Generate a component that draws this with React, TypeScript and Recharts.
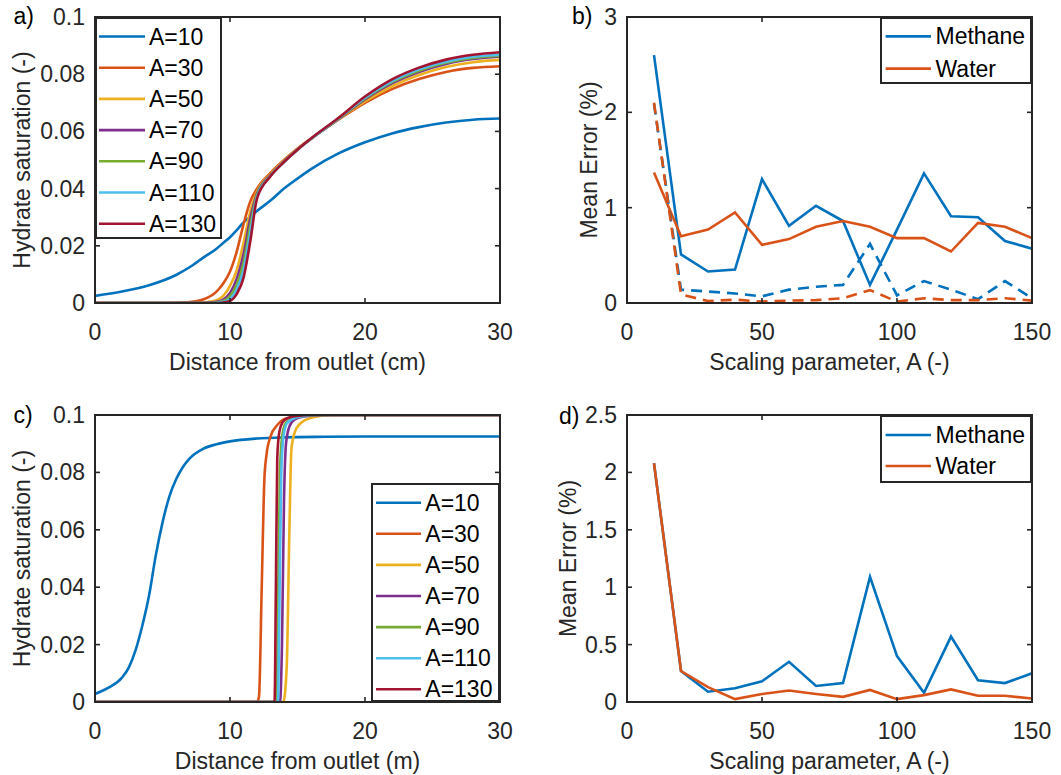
import React from 'react';
import { LineChart, Line, XAxis, YAxis } from 'recharts';

const FONT = '"Liberation Sans", Arial, Helvetica, sans-serif';
const FS = 23;
const INK = '#262626';
const TL = 5;

const seriesColors = ['#0072BD', '#D95319', '#EDB120', '#7E2F8E', '#77AC30', '#4DBEEE', '#A2142F'];
const satLabels = ['A=10', 'A=30', 'A=50', 'A=70', 'A=90', 'A=110', 'A=130'];
const errLabels = ['Methane', 'Water'];

// ---------- panel a: saturation vs distance (cm)
const distTicks = [0, 10, 20, 30];
const satTicks = [0, 0.02, 0.04, 0.06, 0.08, 0.1];
const aX = [0, 2, 4, 6, 7, 8, 9, 9.5, 10, 10.5, 11, 11.5, 12, 13, 14, 15, 16, 18, 20, 22, 24, 26, 28, 30];
const aA10 = [0.0025, 0.0040, 0.0062, 0.0098, 0.0125, 0.0158, 0.0190, 0.0210, 0.0230, 0.0255, 0.0282, 0.0302, 0.0322, 0.0358, 0.0400, 0.0435, 0.0468, 0.0522, 0.0562, 0.0593, 0.0615, 0.0631, 0.0641, 0.0645];
const aA30 = [0, 0, 0, 0.0001, 0.0003, 0.0012, 0.0040, 0.0068, 0.0110, 0.0180, 0.0275, 0.0355, 0.0400, 0.0455, 0.0500, 0.0540, 0.0575, 0.0640, 0.0700, 0.0748, 0.0783, 0.0808, 0.0822, 0.0828];
const aA50 = [0, 0, 0, 0, 0, 0.0002, 0.0010, 0.0025, 0.0060, 0.0115, 0.0210, 0.0320, 0.0390, 0.0450, 0.0497, 0.0538, 0.0574, 0.0641, 0.0705, 0.0758, 0.0797, 0.0825, 0.0842, 0.0850];
const aA70 = [0, 0, 0, 0, 0, 0, 0.0004, 0.0012, 0.0035, 0.0085, 0.0170, 0.0295, 0.0382, 0.0447, 0.0495, 0.0537, 0.0574, 0.0642, 0.0712, 0.0768, 0.0808, 0.0836, 0.0853, 0.0862];
const aA90 = [0, 0, 0, 0, 0, 0, 0.0002, 0.0007, 0.0024, 0.0065, 0.0140, 0.0270, 0.0378, 0.0445, 0.0494, 0.0536, 0.0574, 0.0643, 0.0715, 0.0772, 0.0812, 0.0840, 0.0857, 0.0865];
const aA110 = [0, 0, 0, 0, 0, 0, 0.0001, 0.0004, 0.0014, 0.0048, 0.0115, 0.0245, 0.0372, 0.0444, 0.0493, 0.0536, 0.0574, 0.0644, 0.0718, 0.0776, 0.0817, 0.0844, 0.0861, 0.0868];
const aA130 = [0, 0, 0, 0, 0, 0, 0, 0.0002, 0.0007, 0.0032, 0.0088, 0.0215, 0.0365, 0.0443, 0.0493, 0.0536, 0.0575, 0.0646, 0.0722, 0.0782, 0.0823, 0.0851, 0.0868, 0.0877];
const aSeries = [aA10, aA30, aA50, aA70, aA90, aA110, aA130];

// ---------- panel c: saturation vs distance (m)
const cX10 = [0, 1, 2, 2.5, 3, 3.5, 4, 4.5, 5, 5.5, 6, 6.5, 7, 8, 9, 10, 12, 14, 17, 20, 30];
const cY10 = [0.0028, 0.0050, 0.0085, 0.0120, 0.0180, 0.0265, 0.0370, 0.0510, 0.0625, 0.0715, 0.0775, 0.0818, 0.0848, 0.0882, 0.0898, 0.0908, 0.0918, 0.0922, 0.0924, 0.0925, 0.0925];
const cX30 = [0, 12.0, 12.15, 12.35, 12.55, 12.7, 13.0, 13.5, 14.0, 15.0, 16.5, 30];
const cY30 = [0, 0, 0.002, 0.040, 0.078, 0.086, 0.0925, 0.0965, 0.0985, 0.0995, 0.1, 0.1];
const cX50 = [0, 13.95, 14.2, 14.4, 14.55, 14.8, 15.2, 16.0, 17.5, 30];
const cY50 = [0, 0, 0.012, 0.060, 0.088, 0.094, 0.097, 0.099, 0.1, 0.1];
const cX70 = [0, 13.7, 13.85, 14.0, 14.15, 14.4, 14.8, 15.5, 17.0, 30];
const cY70 = [0, 0, 0.020, 0.070, 0.090, 0.096, 0.0985, 0.0995, 0.1, 0.1];
const cX90 = [0, 13.45, 13.55, 13.7, 13.85, 14.1, 14.5, 15.2, 16.5, 30];
const cY90 = [0, 0, 0.030, 0.080, 0.092, 0.097, 0.0985, 0.0995, 0.1, 0.1];
const cX110 = [0, 13.55, 13.65, 13.8, 13.95, 14.2, 14.6, 15.3, 16.5, 30];
const cY110 = [0, 0, 0.030, 0.080, 0.092, 0.097, 0.0985, 0.0995, 0.1, 0.1];
const cX130 = [0, 13.3, 13.4, 13.5, 13.65, 13.9, 14.3, 15.0, 16.0, 30];
const cY130 = [0, 0, 0.040, 0.085, 0.094, 0.0975, 0.099, 0.0997, 0.1, 0.1];
const cSeriesX = [cX10, cX30, cX50, cX70, cX90, cX110, cX130];
const cSeriesY = [cY10, cY30, cY50, cY70, cY90, cY110, cY130];

// ---------- panel b / d: mean error vs scaling parameter
const scaleA = [10, 20, 30, 40, 50, 60, 70, 80, 90, 100, 110, 120, 130, 140, 150];
const scaleTicks = [0, 50, 100, 150];
const bYTicks = [0, 1, 2, 3];
const dYTicks = [0, 0.5, 1, 1.5, 2, 2.5];
const bMethane = [2.60, 0.51, 0.33, 0.35, 1.30, 0.81, 1.02, 0.86, 0.19, 0.77, 1.36, 0.91, 0.90, 0.65, 0.57];
const bWater = [1.37, 0.70, 0.77, 0.95, 0.61, 0.67, 0.80, 0.86, 0.80, 0.68, 0.68, 0.54, 0.84, 0.80, 0.68];
const bMethaneDash = [2.09, 0.14, 0.12, 0.10, 0.07, 0.14, 0.17, 0.19, 0.62, 0.08, 0.23, 0.14, 0.04, 0.23, 0.05];
const bWaterDash = [2.10, 0.09, 0.02, 0.035, 0.015, 0.025, 0.03, 0.05, 0.135, 0.015, 0.05, 0.03, 0.03, 0.05, 0.025];
const dMethane = [2.08, 0.27, 0.09, 0.12, 0.18, 0.35, 0.14, 0.165, 1.09, 0.40, 0.08, 0.57, 0.19, 0.165, 0.25];
const dWater = [2.08, 0.27, 0.13, 0.025, 0.07, 0.10, 0.07, 0.045, 0.105, 0.025, 0.06, 0.11, 0.055, 0.055, 0.03];

const bTable = scaleA.map((x, i) => ({ x, m: bMethane[i], w: bWater[i], md: bMethaneDash[i], wd: bWaterDash[i] }));
const dTable = scaleA.map((x, i) => ({ x, m: dMethane[i], w: dWater[i] }));

type Geom = { left: number; top: number; width: number; height: number; plotLeft: number; plotTop: number; plotW: number; plotH: number };

const geomA: Geom = { left: 0, top: 0, width: 530, height: 395, plotLeft: 95, plotTop: 17, plotW: 405, plotH: 286 };
const geomB: Geom = { left: 532, top: 0, width: 529, height: 395, plotLeft: 627, plotTop: 17, plotW: 405, plotH: 286 };
const geomC: Geom = { left: 0, top: 398, width: 530, height: 377, plotLeft: 95, plotTop: 415, plotW: 405, plotH: 287 };
const geomD: Geom = { left: 532, top: 398, width: 529, height: 377, plotLeft: 627, plotTop: 415, plotW: 405, plotH: 287 };

const fmt = (v: number) => String(+v.toFixed(4));

function xTick(plotH: number) {
  return (p: any) => {
    const { x, y, payload } = p;
    return (
      <g>
        <line x1={x} x2={x} y1={y} y2={y - TL} stroke={INK} strokeWidth={1.6} />
        <line x1={x} x2={x} y1={y - plotH} y2={y - plotH + TL} stroke={INK} strokeWidth={1.6} />
        <text x={x} y={y + 37} textAnchor="middle" fontSize={FS} fontFamily={FONT} fill={INK}>{fmt(payload.value)}</text>
      </g>
    );
  };
}

function yTick(plotW: number, plotH: number, first: number) {
  return (p: any) => {
    const { x, y, payload } = p;
    return (
      <g>
        {payload.value === first ? (
          <rect x={x} y={y - plotH} width={plotW} height={plotH} fill="none" stroke={INK} strokeWidth={2} />
        ) : null}
        <line x1={x} x2={x + TL} y1={y} y2={y} stroke={INK} strokeWidth={1.6} />
        <line x1={x + plotW} x2={x + plotW - TL} y1={y} y2={y} stroke={INK} strokeWidth={1.6} />
        <text x={x - 10} y={y + 8} textAnchor="end" fontSize={FS} fontFamily={FONT} fill={INK}>{fmt(payload.value)}</text>
      </g>
    );
  };
}

function frame(g: Geom, xDom: number[], yDom: number[], xTicks: number[], yTicks: number[], xTitle: string, yTitle: string, yTitleOff: number) {
  const cx = g.plotLeft - g.left + g.plotW / 2;
  const xTitleY = g.plotTop - g.top + g.plotH + 67;
  const yTitleX = g.plotLeft - g.left - yTitleOff;
  const cy = g.plotTop - g.top + g.plotH / 2;
  return [
    <XAxis key="xa" type="number" dataKey="x" domain={xDom} ticks={xTicks} interval={0} allowDataOverflow
      height={g.top + g.height - (g.plotTop + g.plotH)} axisLine={false} tickLine={false} tickSize={0} tickMargin={0}
      tick={xTick(g.plotH)}
      label={() => (
        <text x={cx} y={xTitleY} textAnchor="middle" fontSize={FS} fontFamily={FONT} fill={INK}>{xTitle}</text>
      )} />,
    <YAxis key="ya" type="number" domain={yDom} ticks={yTicks} interval={0} allowDataOverflow
      width={g.plotLeft - g.left} axisLine={false} tickLine={false} tickSize={0} tickMargin={0}
      tick={yTick(g.plotW, g.plotH, yDom[0])}
      label={() => (
        <text x={yTitleX} y={cy} transform={`rotate(-90, ${yTitleX}, ${cy})`} textAnchor="middle" fontSize={FS} fontFamily={FONT} fill={INK}>{yTitle}</text>
      )} />,
  ];
}

type LegendSpec = { x: number; y: number; w: number; h: number; y0: number; dy: number; lx0: number; lx1: number; tx: number; labels: string[] };

function LegendBox({ s, g }: { s: LegendSpec; g: Geom }) {
  return (
    <svg width={s.w} height={s.h} style={{ position: 'absolute', left: s.x - g.left, top: s.y - g.top, display: 'block' }}>
      <rect x={1} y={1} width={s.w - 2} height={s.h - 2} fill="#ffffff" stroke={INK} strokeWidth={2} />
      {s.labels.map((lab, i) => {
        const cy = s.y0 + i * s.dy;
        return (
          <g key={lab}>
            <line x1={s.lx0} x2={s.lx1} y1={cy} y2={cy} stroke={seriesColors[i]} strokeWidth={2.6} />
            <text x={s.tx} y={cy + 8} fontSize={FS} fontFamily={FONT} fill="#000">{lab}</text>
          </g>
        );
      })}
    </svg>
  );
}

const legA: LegendSpec = { x: 95, y: 17, w: 127, h: 222, y0: 19.5, dy: 31.2, lx0: 4, lx1: 50, tx: 54, labels: satLabels };
const legB: LegendSpec = { x: 880, y: 17, w: 152, h: 67, y0: 19.4, dy: 32.2, lx0: 5.6, lx1: 51, tx: 55.5, labels: errLabels };
const legC: LegendSpec = { x: 371, y: 483, w: 129, h: 219, y0: 19.7, dy: 31.1, lx0: 5, lx1: 50, tx: 54.3, labels: satLabels };
const legD: LegendSpec = { x: 880, y: 415, w: 152, h: 68, y0: 20, dy: 31, lx0: 5.6, lx1: 51, tx: 55.5, labels: errLabels };

function margins(g: Geom) {
  return { top: g.plotTop - g.top, left: 0, right: g.left + g.width - (g.plotLeft + g.plotW), bottom: 0 };
}

function boxStyle(g: Geom): React.CSSProperties {
  return { position: 'absolute', left: g.left, top: g.top, width: g.width, height: g.height };
}

export default function App() {
  const distDom = [0, 30];
  const satDom = [0, 0.1];
  const scaleDom = [0, 150];
  return (
    <div style={{ position: 'absolute', left: 0, top: 0, width: 1061, height: 775, overflow: 'hidden', background: '#ffffff', fontFamily: FONT }}>
      {/* a */}
      <div style={boxStyle(geomA)}>
        <LineChart width={geomA.width} height={geomA.height} margin={margins(geomA)}>
          {frame(geomA, distDom, satDom, distTicks, satTicks, 'Distance from outlet (cm)', 'Hydrate saturation (-)', 65)}
          {aSeries.map((ys, k) => (
            <Line key={satLabels[k]} data={aX.map((x, i) => ({ x, y: ys[i] }))} dataKey="y" type="monotone"
              stroke={seriesColors[k]} strokeWidth={2.6} dot={false} activeDot={false} isAnimationActive={false} />
          ))}
        </LineChart>
        <LegendBox s={legA} g={geomA} />
      </div>
      {/* b */}
      <div style={boxStyle(geomB)}>
        <LineChart width={geomB.width} height={geomB.height} margin={margins(geomB)} data={bTable}>
          {frame(geomB, scaleDom, [0, 3], scaleTicks, bYTicks, 'Scaling parameter, A (-)', 'Mean Error (%)', 30.5)}
          <Line dataKey="m" type="linear" stroke={seriesColors[0]} strokeWidth={2.6} dot={false} activeDot={false} isAnimationActive={false} />
          <Line dataKey="w" type="linear" stroke={seriesColors[1]} strokeWidth={2.6} dot={false} activeDot={false} isAnimationActive={false} />
          <Line dataKey="md" type="linear" stroke={seriesColors[0]} strokeWidth={2.6} strokeDasharray="11 7" dot={false} activeDot={false} isAnimationActive={false} />
          <Line dataKey="wd" type="linear" stroke={seriesColors[1]} strokeWidth={2.6} strokeDasharray="11 7" dot={false} activeDot={false} isAnimationActive={false} />
        </LineChart>
        <LegendBox s={legB} g={geomB} />
      </div>
      {/* c */}
      <div style={boxStyle(geomC)}>
        <LineChart width={geomC.width} height={geomC.height} margin={margins(geomC)}>
          {frame(geomC, distDom, satDom, distTicks, satTicks, 'Distance from outlet (m)', 'Hydrate saturation (-)', 65)}
          {cSeriesX.map((xs, k) => (
            <Line key={satLabels[k]} data={xs.map((x, i) => ({ x, y: cSeriesY[k][i] }))} dataKey="y" type="monotone"
              stroke={seriesColors[k]} strokeWidth={2.6} dot={false} activeDot={false} isAnimationActive={false} />
          ))}
        </LineChart>
        <LegendBox s={legC} g={geomC} />
      </div>
      {/* d */}
      <div style={boxStyle(geomD)}>
        <LineChart width={geomD.width} height={geomD.height} margin={margins(geomD)} data={dTable}>
          {frame(geomD, scaleDom, [0, 2.5], scaleTicks, dYTicks, 'Scaling parameter, A (-)', 'Mean Error (%)', 51)}
          <Line dataKey="m" type="linear" stroke={seriesColors[0]} strokeWidth={2.6} dot={false} activeDot={false} isAnimationActive={false} />
          <Line dataKey="w" type="linear" stroke={seriesColors[1]} strokeWidth={2.6} dot={false} activeDot={false} isAnimationActive={false} />
        </LineChart>
        <LegendBox s={legD} g={geomD} />
      </div>
      {/* panel letters */}
      <svg width={1061} height={775} style={{ position: 'absolute', left: 0, top: 0, pointerEvents: 'none' }}>
        <text x={13.5} y={24} fontSize={FS} fontFamily={FONT} fill="#000">a)</text>
        <text x={572} y={24} fontSize={FS} fontFamily={FONT} fill="#000">b)</text>
        <text x={13.5} y={422.5} fontSize={FS} fontFamily={FONT} fill="#000">c)</text>
        <text x={559} y={423.5} fontSize={FS} fontFamily={FONT} fill="#000">d)</text>
      </svg>
    </div>
  );
}
